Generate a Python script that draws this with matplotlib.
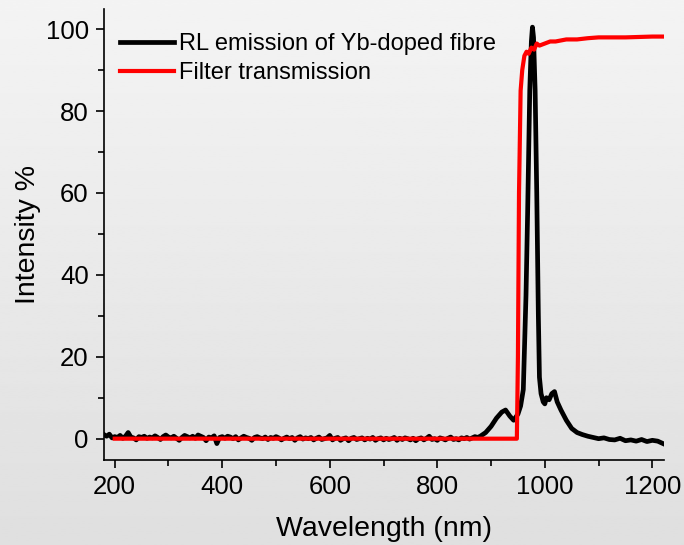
import numpy as np
import matplotlib.pyplot as plt
from matplotlib.ticker import MultipleLocator

plt.rcParams['font.family'] = ['Liberation Sans', 'DejaVu Sans']

# RL emission of Yb-doped fibre
# flat noisy part, 180-880 nm every 5 nm
noise_wl = list(range(180, 885, 5))
noise_int = [1.0, 0.6, 1.1, 0.2, 0.5, 0.3, 0.8, 0.1, 0.6, 1.5, 0.4, 0.2, -0.3, 0.5, 0.3,
             0.6, 0.1, 0.4, 0.2, 0.7, 0.3, -0.2, 0.5, 0.9, 0.4, 0.2, 0.6, 0.1, -0.4, 0.3,
             0.8, 0.5, 0.2, 0.6, 0.1, 0.9, 0.6, 0.3, -0.5, 0.4, 0.2, 0.7, -1.2, 0.3, 0.5,
             0.1, 0.6, 0.4, 0.0, 0.5, -0.3, 0.2, 0.6, 0.3, 0.1, -0.4, 0.3, 0.5, 0.2, 0.0,
             0.4, -0.2, 0.3, 0.1, 0.5, 0.2, -0.3, 0.1, 0.4, 0.0, 0.3, -0.4, 0.2, 0.5, -0.1,
             0.2, 0.0, 0.3, -0.3, 0.1, 0.4, -0.2, 0.0, 0.2, 0.8, -0.3, 0.1, 0.3, -0.4, 0.0,
             0.2, -0.5, 0.1, 0.3, -0.2, 0.0, 0.2, -0.3, 0.1, -0.1, 0.3, -0.4, 0.0, 0.2,
             -0.3, 0.1, -0.2, 0.0, 0.3, -0.4, 0.1, -0.2, 0.2, 0.0, -0.3, 0.1, -0.5, 0.0,
             0.2, -0.3, 0.1, 0.6, -0.2, 0.0, -0.4, 0.2, 0.0, -0.3, 0.1, 0.4, -0.2, 0.0,
             -0.3, 0.2, 0.0, 0.3, -0.1, 0.2, 0.5, 0.3, 0.6]
peak_wl = [890, 900, 910, 920, 927, 935, 942, 950, 955, 960, 965, 968, 972, 975, 977,
           979, 982, 985, 988, 990, 993, 997, 1000, 1003, 1008, 1013, 1018, 1023, 1030,
           1040, 1050, 1060, 1070, 1080, 1090, 1100, 1110, 1120, 1130, 1140, 1150, 1160,
           1170, 1180, 1190, 1200, 1210, 1215, 1220]
peak_int = [1.5, 3.0, 5.0, 6.5, 7.0, 5.5, 4.5, 6.0, 8.0, 12.0, 35.0, 55.0, 85.0, 97.0,
            100.5, 98.0, 85.0, 60.0, 30.0, 15.0, 11.0, 9.0, 8.5, 10.0, 9.5, 11.0, 11.5,
            9.0, 7.0, 4.5, 2.5, 1.5, 1.0, 0.6, 0.3, 0.0, 0.2, -0.2, -0.3, 0.1, -0.5,
            -0.3, -0.6, -0.2, -0.7, -0.4, -0.6, -0.9, -1.2]
rl_wl = noise_wl + peak_wl
rl_int = noise_int + peak_int

# filter transmission
ft_wl = [200, 948, 950, 952, 955, 958, 962, 966, 970, 975, 980, 985, 990, 1000,
         1010, 1020, 1040, 1060, 1080, 1100, 1150, 1200, 1220]
ft_int = [0, 0, 20, 60, 85, 90, 93.5, 94.5, 94, 95.5, 95, 96.5, 96, 96.5,
          97, 97, 97.5, 97.5, 97.8, 98, 98, 98.2, 98.2]

fig = plt.figure(figsize=(6.84, 5.45), dpi=100)

# grey gradient background
bg = fig.add_axes([0, 0, 1, 1], zorder=-1)
grad = np.linspace(0.955, 0.875, 256).reshape(-1, 1)
bg.imshow(grad, aspect='auto', cmap='gray', vmin=0, vmax=1, extent=[0, 1, 0, 1])
bg.axis('off')

ax = fig.add_axes([0.152, 0.156, 0.819, 0.828])
ax.patch.set_alpha(0)

ax.plot(rl_wl, rl_int, color='black', lw=3.4, label='RL emission of Yb-doped fibre')
ax.plot(ft_wl, ft_int, color='#ff0000', lw=3.0, label='Filter transmission')

ax.set_xlim(180, 1222)
ax.set_ylim(-5.2, 105)
ax.xaxis.set_major_locator(MultipleLocator(200))
ax.xaxis.set_minor_locator(MultipleLocator(100))
ax.yaxis.set_major_locator(MultipleLocator(20))
ax.yaxis.set_minor_locator(MultipleLocator(10))
ax.tick_params(which='major', direction='out', length=6, width=1.2, labelsize=18.5, pad=5)
ax.tick_params(which='minor', direction='out', length=4, width=1.2)

for s in ['top', 'right']:
    ax.spines[s].set_visible(False)
for s in ['left', 'bottom']:
    ax.spines[s].set_linewidth(1.2)

ax.set_xlabel('Wavelength (nm)', fontsize=20.5, labelpad=12)
ax.set_ylabel('Intensity %', fontsize=20.5, labelpad=3)

ax.legend(loc='upper left', frameon=False, fontsize=17, handlelength=2.3,
          handletextpad=0.2, borderaxespad=0, borderpad=0.4, labelspacing=0.3,
          bbox_to_anchor=(0.012, 0.967))

fig.savefig('out.png', dpi=100)
